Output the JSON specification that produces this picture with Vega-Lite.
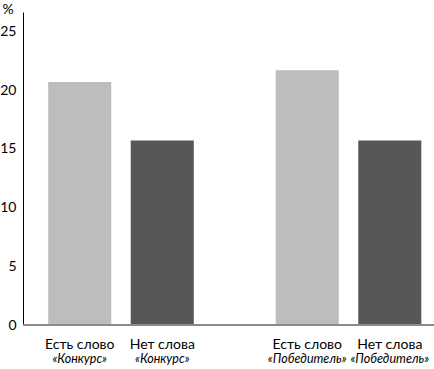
{
  "$schema": "https://vega.github.io/schema/vega-lite/v6.json",
  "width": 411,
  "height": 313,
  "autosize": {"type": "none"},
  "padding": {"left": 23, "top": 12, "right": 0, "bottom": 44},
  "config": {
    "view": {"stroke": null},
    "font": "Lato, Roboto, sans-serif",
    "text": {"font": "Lato, Roboto, sans-serif"}
  },
  "data": {
    "values": [
      {"group": "Конкурс", "kind": "Есть слово", "word": "«Конкурс»", "value": 20.7},
      {"group": "Конкурс", "kind": "Нет слова", "word": "«Конкурс»", "value": 15.7},
      {"group": "Победитель", "kind": "Есть слово", "word": "«Победитель»", "value": 21.7},
      {"group": "Победитель", "kind": "Нет слова", "word": "«Победитель»", "value": 15.7}
    ]
  },
  "encoding": {
    "x": {
      "field": "group", "type": "nominal", "axis": null,
      "scale": {"paddingInner": 0.36, "paddingOuter": 0.0833, "align": 0.665}
    },
    "xOffset": {
      "field": "kind", "type": "nominal",
      "scale": {"paddingInner": 0.236, "paddingOuter": 0}
    }
  },
  "layer": [
    {
      "mark": {"type": "bar"},
      "encoding": {
        "y": {
          "field": "value", "type": "quantitative",
          "scale": {"domain": [0, 26.65], "nice": false, "zero": true},
          "axis": {
            "values": [0, 5, 10, 15, 20, 25],
            "title": "%",
            "titleAngle": 0,
            "titleAlign": "left",
            "titleBaseline": "alphabetic",
            "titleX": -21,
            "titleY": 1,
            "titleFontSize": 14,
            "titleFontWeight": "normal",
            "titleColor": "#000000",
            "grid": false,
            "ticks": false,
            "domainColor": "#000000",
            "domainWidth": 1,
            "labelColor": "#000000",
            "labelFontSize": 14,
            "labelPadding": 7
          }
        },
        "color": {
          "field": "kind", "type": "nominal",
          "scale": {"domain": ["Есть слово", "Нет слова"], "range": ["#bdbdbd", "#575757"]},
          "legend": null
        }
      }
    },
    {
      "mark": {"type": "rule", "color": "#8a8a8a", "strokeWidth": 2},
      "encoding": {"y": {"datum": 0}, "x": null, "xOffset": null}
    },
    {
      "mark": {"type": "text", "baseline": "alphabetic", "dy": 24, "fontSize": 14, "color": "#000000"},
      "encoding": {"y": {"datum": 0}, "text": {"field": "kind"}}
    },
    {
      "mark": {"type": "text", "baseline": "alphabetic", "dy": 38, "fontSize": 12.5, "fontStyle": "italic", "color": "#000000"},
      "encoding": {"y": {"datum": 0}, "text": {"field": "word"}}
    }
  ]
}
